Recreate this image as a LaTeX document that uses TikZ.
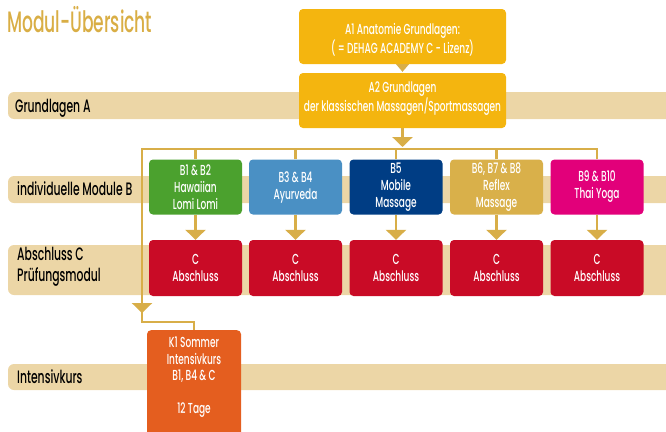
\documentclass[tikz,border=0pt]{standalone}
\usepackage{fontspec}
\setmainfont{Poppins Medium}[FakeStretch=0.62]
\newfontfamily\titlefam{Poppins Medium}[FakeStretch=0.58]
\newfontfamily\labfam{Poppins Medium}[FakeStretch=0.6]
\usetikzlibrary{arrows.meta}
\definecolor{linec}{HTML}{D8AE48}
\definecolor{titlec}{HTML}{D9AE45}
\definecolor{bandc}{HTML}{ECD6A6}
\definecolor{ac}{HTML}{F4B50F}
\definecolor{greenc}{HTML}{4BA12E}
\definecolor{bluec}{HTML}{4A90C4}
\definecolor{navyc}{HTML}{003D84}
\definecolor{goldc}{HTML}{D9B04A}
\definecolor{magc}{HTML}{E2007A}
\definecolor{redc}{HTML}{C90B26}
\definecolor{orc}{HTML}{E45E1F}
\newcommand\boxfont{\fontsize{14.5}{17}\selectfont}
\newcommand\labfont{\labfam\fontsize{18}{21}\selectfont}
\tikzset{
  box/.style={rounded corners=4pt, minimum width=93pt, minimum height=55pt, inner sep=0pt, text=white, align=center, font=\boxfont},
  boxtext/.style={inner sep=0pt, text=white, align=center, font=\boxfont},
  lab/.style={inner sep=0pt, align=left, font=\labfont, text=black},
  link/.style={draw=linec, line width=2.5pt},
  tipstyle/.style={-{Triangle[width=20pt,length=10pt]}}
}
\begin{document}
\begin{tikzpicture}[x=1pt,y=-1pt]
\useasboundingbox (0,0) rectangle (666,431);
% bands
\fill[bandc, rounded corners=6pt] (8,92) rectangle (690,119);
\fill[bandc, rounded corners=6pt] (8,176) rectangle (690,203);
\fill[bandc, rounded corners=6pt] (8,245) rectangle (690,295);
\fill[bandc, rounded corners=6pt] (8,364) rectangle (690,390);
% title and labels
\node[anchor=base west, inner sep=0pt, text=titlec, font=\titlefam\fontsize{29.5}{32}\selectfont] (title) at (7,32) {Modul-Übersicht};
\node[lab, anchor=base west] (lA) at (15,112) {Grundlagen A};
\node[lab, anchor=base west] (lB) at (17,195) {individuelle Module B};
\node[lab, anchor=north west] (lC) at (17,247) {Abschluss C\\Prüfungsmodul};
\node[lab, anchor=base west] (lK) at (17,383) {Intensivkurs};
% A boxes
\node[box, fill=ac, minimum width=207pt] (A1) at (402.5,36.5) {\rule{0pt}{18pt}A1 Anatomie Grundlagen:\\( = DEHAG ACADEMY C - Lizenz)};
\node[box, fill=ac, minimum width=207pt] (A2) at (402.5,100.5) {A2 Grundlagen\\der klassischen Massagen/Sportmassagen\rule[-8pt]{0pt}{0pt}};
% B boxes
\node[box, fill=greenc] (B12) at (195.5,187) {B1 \& B2\\Hawaiian\\Lomi Lomi};
\node[box, fill=bluec] (B34) at (295.5,187) {B3 \& B4\\Ayurveda};
\node[box, fill=navyc] (B5) at (396,187) {B5\\Mobile\\Massage};
\node[box, fill=goldc] (B678) at (496.5,187) {B6, B7 \& B8\\Reflex\\Massage};
\node[box, fill=magc] (B910) at (597,187) {B9 \& B10\\Thai Yoga};
% C boxes
\foreach \n/\x in {C1/195.5, C2/295.5, C3/396, C4/496.5, C5/597}
  \node[box, fill=redc, minimum height=56pt] (\n) at (\x,268) {C\\Abschluss};
% K1
\node[box, fill=orc, minimum width=94pt, minimum height=115pt, anchor=north] (K1) at (194,330) {};
\node[boxtext, anchor=north, font=\fontsize{14.5}{16.5}\selectfont] (K1t) at (194,337) {K1 Sommer\\Intensivkurs\\B1, B4 \& C\\[16.5pt]12 Tage};
% connectors
\coordinate (barL) at (142,149);
\coordinate (knee) at (142,322);
\coordinate (kTail) at (142,300);
\coordinate (kTip) at (142,313);
\draw[link] (B910.north) |- (barL) -- (knee) -| (K1.north);
\foreach \n in {B12,B34,B5,B678}
  \draw[link] (\n.north) -- (\n.north |- barL);
\draw[link, tipstyle, shorten >=2pt] (A2.south) -- (A2.south |- barL);
\draw[link, tipstyle] (kTail) -- (kTip);
\foreach \b/\c in {B12/C1, B34/C2, B5/C3, B678/C4, B910/C5}
  \draw[link, tipstyle] (\b) -- (\c);
\fill[linec] ([xshift=-6.5pt]A1.south) -- ([xshift=6.5pt]A1.south) -- ([yshift=1pt]A2.north) -- cycle;
\end{tikzpicture}
\end{document}
